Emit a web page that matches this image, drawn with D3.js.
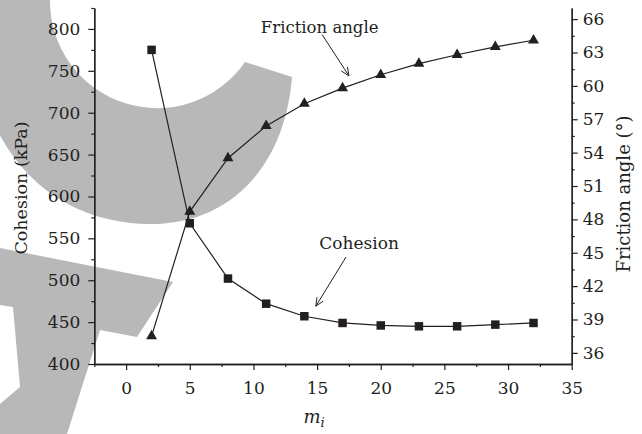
<!DOCTYPE html>
<html>
<head>
<meta charset="utf-8">
<script src="https://cdn.jsdelivr.net/npm/d3@7"></script>
<style>
  html, body { margin: 0; padding: 0; background: #fff; }
  svg { display: block; }
  text { font-family: "DejaVu Serif", "Liberation Serif", serif; fill: #231f20; }
</style>
</head>
<body>
<svg id="chart" width="642" height="434"></svg>
<script>
// Hoek–Brown parameter m_i against fitted strength parameters
const mi = [2, 5, 8, 11, 14, 17, 20, 23, 26, 29, 32];
const cohesion = [775, 568, 502, 472, 457, 449, 446, 445, 445, 447, 449];      // kPa
const frictionAngle = [37.5, 48.7, 53.5, 56.4, 58.4, 59.8, 61.0, 62.0, 62.8, 63.5, 64.1]; // degrees

const xTicks = [0, 5, 10, 15, 20, 25, 30, 35];
const cohesionTicks = [400, 450, 500, 550, 600, 650, 700, 750, 800];
const frictionTicks = [36, 39, 42, 45, 48, 51, 54, 57, 60, 63, 66];

const plotL = 94.3, plotR = 571.7, plotT = 8, plotB = 364;
const ink = "#231f20";

const svg = d3.select("#chart");

// background watermark shapes
const wm = svg.append("g").attr("fill", "#b8b8b8");
wm.append("path").attr("d",
  "M -30 0 L 50 0 A 107 107 0 0 0 245 62 L 292 77 " +
  "C 285 165 232 224 150 224 C 60 224 -30 160 -30 0 Z");
wm.append("path").attr("d",
  "M 0 248 L 173 282 L 137 337 L 100 330 L 67 434 L 0 434 L 0 404 L 20 387 L 13 307 L 0 305 Z");

const x = d3.scaleLinear().domain([-2.5, 35]).range([plotL, plotR]);
const yL = d3.scaleLinear().domain([400, 825]).range([plotB, plotT]);
const yR = d3.scaleLinear().domain([35, 67]).range([plotB, plotT]);

const tickFont = 17;

// axes with major and minor ticks drawn outward
function styleAxis(g) {
  g.select(".domain").attr("stroke", ink).attr("stroke-width", 1.3);
  g.selectAll(".tick line").attr("stroke", ink).attr("stroke-width", 1.2);
  g.selectAll(".tick text").style("font-size", tickFont + "px").attr("fill", ink);
}

// bottom axis
const xMinor = d3.range(-2.5, 35.01, 2.5).filter(v => !xTicks.includes(v));
svg.append("g").attr("transform", `translate(0,${plotB})`)
  .call(d3.axisBottom(x).tickValues(xMinor).tickSize(3).tickSizeOuter(0).tickFormat(""))
  .call(styleAxis);
svg.append("g").attr("transform", `translate(0,${plotB})`)
  .call(d3.axisBottom(x).tickValues(xTicks).tickSize(6).tickSizeOuter(0).tickPadding(12))
  .call(styleAxis);

// left axis (cohesion)
const lMinor = d3.range(425, 826, 50);
svg.append("g").attr("transform", `translate(${plotL},0)`)
  .call(d3.axisLeft(yL).tickValues(lMinor).tickSize(3).tickSizeOuter(0).tickFormat(""))
  .call(styleAxis);
svg.append("g").attr("transform", `translate(${plotL},0)`)
  .call(d3.axisLeft(yL).tickValues(cohesionTicks).tickSize(6).tickSizeOuter(0).tickPadding(8))
  .call(styleAxis);

// right axis (friction angle)
const rMinor = d3.range(37.5, 67, 3);
svg.append("g").attr("transform", `translate(${plotR},0)`)
  .call(d3.axisRight(yR).tickValues(rMinor).tickSize(3).tickSizeOuter(0).tickFormat(""))
  .call(styleAxis);
svg.append("g").attr("transform", `translate(${plotR},0)`)
  .call(d3.axisRight(yR).tickValues(frictionTicks).tickSize(6).tickSizeOuter(0).tickPadding(5))
  .call(styleAxis);

// series lines
const cohLine = d3.line().x((d, i) => x(mi[i])).y(d => yL(d));
const friLine = d3.line().x((d, i) => x(mi[i])).y(d => yR(d));
svg.append("path").attr("d", cohLine(cohesion)).attr("fill", "none").attr("stroke", ink).attr("stroke-width", 1.2);
svg.append("path").attr("d", friLine(frictionAngle)).attr("fill", "none").attr("stroke", ink).attr("stroke-width", 1.2);

// markers
const sq = d3.symbol().type(d3.symbolSquare).size(72);
const tri = d3.symbol().type(d3.symbolTriangle).size(52);
svg.append("g").selectAll("path").data(cohesion).join("path")
  .attr("d", sq).attr("fill", ink)
  .attr("transform", (d, i) => `translate(${x(mi[i])},${yL(d)})`);
svg.append("g").selectAll("path").data(frictionAngle).join("path")
  .attr("d", tri).attr("fill", ink)
  .attr("transform", (d, i) => `translate(${x(mi[i])},${yR(d)})`);

// annotation arrows (open heads)
function arrow(x1, y1, x2, y2) {
  const g = svg.append("g").attr("stroke", ink).attr("stroke-width", 1).attr("fill", "none");
  g.append("line").attr("x1", x1).attr("y1", y1).attr("x2", x2).attr("y2", y2);
  const a = Math.atan2(y2 - y1, x2 - x1), L = 9, s = 0.42;
  g.append("path").attr("d",
    `M${x2 - L * Math.cos(a - s)},${y2 - L * Math.sin(a - s)} L${x2},${y2} L${x2 - L * Math.cos(a + s)},${y2 - L * Math.sin(a + s)}`);
}
arrow(x(15.4), yR(64.6), x(17.5), yR(60.9));
arrow(x(17.27), yL(527.7), x(14.9), yL(469));

svg.append("text").attr("x", x(15.2)).attr("y", 33).attr("text-anchor", "middle")
  .style("font-size", "16.5px").text("Friction angle");
svg.append("text").attr("x", x(18.3)).attr("y", 249).attr("text-anchor", "middle")
  .style("font-size", "17px").text("Cohesion");

// axis titles
svg.append("text").attr("transform", `translate(27,188) rotate(-90)`)
  .attr("text-anchor", "middle").style("font-size", "17.5px").text("Cohesion (kPa)");
svg.append("text").attr("transform", `translate(630,194) rotate(-90)`)
  .attr("text-anchor", "middle").style("font-size", "18px").text("Friction angle (°)");
const xt = svg.append("text").attr("x", 314).attr("y", 423).attr("text-anchor", "middle")
  .style("font-size", "18px").style("font-style", "italic");
xt.append("tspan").text("m");
xt.append("tspan").attr("dy", 4).style("font-size", "13px").text("i");
</script>
</body>
</html>
